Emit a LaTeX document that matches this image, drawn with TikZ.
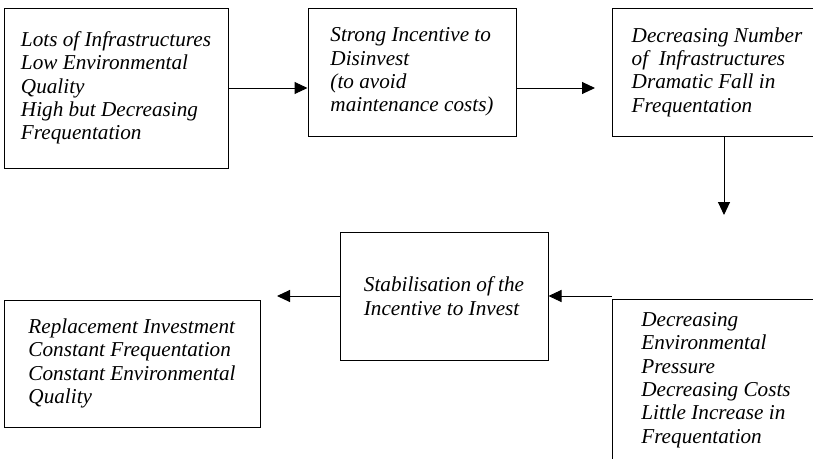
\documentclass[tikz,border=0pt]{standalone}
\usepackage{fontspec}
\setmainfont{Liberation Serif}
\usetikzlibrary{arrows.meta}
\begin{document}
\begin{tikzpicture}[x=1pt, y=-1pt,
	box/.style={draw, line width=1pt, align=left, inner sep=0pt, font=\fontsize{21.2}{23.3}\selectfont\itshape},
	arr/.style={line width=1pt, -{Triangle[length=13pt,width=12pt]}}]
	\useasboundingbox (0,0) rectangle (813,458);
	\clip (0,0) rectangle (813,458);
	
	\node[box, minimum width=224pt, minimum height=160pt] (lots) at (116,88){Lots of Infrastructures\\Low Environmental\\Quality\\High but Decreasing\\Frequentation};
	\node[box, minimum width=208pt, minimum height=128pt] (disinv) at (412,72){Strong Incentive to\\Disinvest\\(to avoid\\maintenance costs)};
	\node[box, minimum width=210pt, minimum height=128pt] (fall) at (717,72){Decreasing Number\\of\ \ Infrastructures\\Dramatic Fall in\\Frequentation};
	
	\node[box, minimum width=208pt, minimum height=128pt] (stab) at (444,296){Stabilisation of the\\Incentive to Invest};
	\node[box, minimum width=256pt, minimum height=127pt] (repl) at (132,363.5){Replacement Investment\\Constant Frequentation\\Constant Environmental\\Quality};
	\node[box, minimum width=208pt, minimum height=162pt] (press) at (716,380){Decreasing\\Environmental\\Pressure\\Decreasing Costs\\Little Increase in\\Frequentation};
	
	\coordinate (tip2) at (595,88);
	\coordinate (tip3) at (724,215);
	\coordinate (tip5) at (277,296);
	
	\draw[arr] (lots.east) -- (lots.east -| disinv.west);
	\draw[arr] (disinv.east |- lots.east) -- (tip2);
	\draw[arr] (fall.south -| tip3) -- (tip3);
	\draw[arr] (press.north west |- stab.east) -- (stab.east);
	\draw[arr] (stab.west) -- (tip5);
	
\end{tikzpicture}
\end{document}
